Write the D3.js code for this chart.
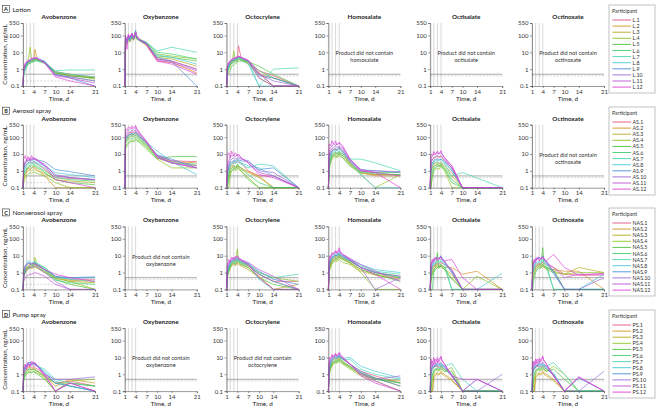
<!DOCTYPE html>
<html><head><meta charset="utf-8">
<script src="https://cdn.jsdelivr.net/npm/d3@7"></script>
<style>
body{margin:0;background:#fff;}
svg{display:block;font-family:Lato,"Liberation Sans",Arial,sans-serif;}
</style></head>
<body><svg id="chart" width="660" height="415"></svg>
<script>
const times=[1,1.2,1.6,2,2.4,3,3.4,4,4.3,5,7,10,14,21];
const products=["Lotion","Aerosol spray","Nonaerosol spray","Pump spray"];
const rowLetters=["A","B","C","D"];
const idPrefixes=["L","AS","NAS","PS"];
const ingredients=["Avobenzone","Oxybenzone","Octocrylene","Homosalate","Octisalate","Octinoxate"];
const xTicks=[1,4,7,10,14,21];
const yTicks=[0.1,1,10,100,550];
const loqSolid=[0.5,0.5,0.5,0.5,0.5,0.5];
const loqDashed=[0.2,0.4,0.4,0.4,0.4,0.4];
const dosingDays=[1,2,3,4];
const colors=["#e8507a","#d4921e","#b5a81c","#8cc21e","#4cc23a","#3fcf6e","#45d6b0","#45c8dc","#4a8fd6","#9a6ad8","#c04fd8","#e040d8"];

const lotionAvobenzone=[
[0.1,0.8,1.5,1.8,2.5,2.8,3,3.2,4,3.5,2.5,0.6,0.4,0.3],
[0.1,0.6,1.2,1.6,2.2,2.5,3,3,15,3.8,2.8,0.7,0.5,0.3],
[0.1,0.7,1.3,2,2.4,2.6,3.2,3.5,4.2,3.8,2.6,0.6,0.45,0.35],
[0.1,0.9,1.8,2.2,3,20,3.5,3.2,4,3.6,2.4,0.7,0.5,0.25],
[0.1,0.5,1.0,1.5,2,2.2,2.5,2.8,3.2,3,2.2,0.6,0.4,0.3],
[0.1,0.6,1.1,1.7,2.5,2.8,3,3.5,3.6,3.4,2.8,0.5,0.35,0.2],
[0.1,0.4,0.9,1.3,2,2.2,2.6,2.8,3.2,3,2.5,0.8,0.9,0.9],
[0.1,0.7,1.4,2,2.7,3,3.5,3.8,4.5,4,2.8,0.7,0.5,0.35],
[0.1,0.8,1.6,2.3,3,3.2,3.6,3.9,4.5,4.2,3,0.5,0.3,0.1],
[0.1,0.9,1.5,2.2,2.8,3.3,3.8,4,4.6,4.4,2.6,0.45,0.35,0.2],
[0.1,1.0,2,2.6,3,3.5,4,4.2,4.8,4,2.5,0.4,0.3,0.15],
[0.1,1.1,2.2,2.8,3.2,3.8,4.5,4.6,5,4.5,2.3,0.35,0.2,0.1]];
const lotionOxybenzone=[
[0.1,60,40,80,50,90,60,120,70,55,30,4,3,1],
[0.1,50,30,70,40,80,50,100,60,50,25,3,2.5,0.6],
[0.1,70,35,90,60,100,70,150,80,60,35,5,4,1.5],
[0.1,80,45,100,70,120,80,180,90,60,40,8,6,4],
[0.1,55,30,75,45,85,55,110,65,50,30,6,5,3],
[0.1,65,40,85,55,95,65,130,75,55,35,10,8,4],
[0.1,75,50,95,60,110,70,160,85,60,40,12,20,10],
[0.1,60,35,80,50,90,60,120,70,50,30,7,5,2],
[0.1,70,40,90,60,100,70,200,80,55,35,5,3,0.1],
[0.1,80,45,100,70,120,75,140,90,60,35,4,3,1],
[0.1,90,50,110,75,130,80,150,90,55,30,3.5,2.5,0.8],
[0.1,100,15,120,80,140,60,160,100,60,30,3,2,0.5]];
const lotionOctocrylene=[
[0.1,1,2,2.5,3,3.2,4,4,25,5,3,0.8,0.4,0.1],
[0.1,0.8,1.5,2,2.8,3,3.5,3.5,6,4,2.5,0.5,0.3,0.1],
[0.1,0.6,1.2,1.8,2.2,2.5,3,3.2,4,3.5,2,0.6,0.1,0.1],
[0.1,0.5,1,1.5,2,12,3,3,4,3.5,2.5,0.3,0.1,0.1],
[0.1,0.4,0.6,0.8,1.5,1.8,2.2,2.5,3,3,2.8,1.5,0.5,0.1],
[0.1,0.7,1.3,2,2.5,3,3.5,4,4.5,4,2.8,0.8,0.3,0.1],
[0.1,0.6,1.1,1.8,2.2,2.6,3,3.2,3.8,3.5,2,0.1,1,1.2],
[0.1,0.9,1.6,2.4,3,3.4,3.8,4.2,5,4.5,3,0.1,0.1,0.1],
[0.1,1,1.8,2.6,3.2,3.6,4,4.5,5.5,4.8,3,0.4,0.3,0.1],
[0.1,1.2,2,2.8,3.4,4,4.5,4.8,5.5,5,3.2,0.5,0.2,0.1],
[0.1,1.3,2.2,3,3.6,4.2,4.8,5,6,5,3,0.3,0.1,0.1],
[0.1,1.5,2.5,3.2,3.8,4.5,5,5.5,6,5,3.5,0.6,0.1,0.1]];
const aerosolAvobenzone=[
[0.1,1.5,2,2.5,3,3.5,3,3.5,3,2.5,1.2,0.4,0.35,0.3],
[0.1,0.4,0.8,1,1.5,1.2,1.5,1.8,1.5,1.2,0.5,0.1,0.1,0.1],
[0.1,0.3,0.5,0.8,1,1.2,1,1.4,1.2,1,0.7,0.3,0.25,0.2],
[0.1,0.2,0.3,0.5,0.6,0.8,0.7,0.9,0.8,0.7,0.5,0.2,0.1,0.1],
[0.1,0.5,0.8,1.2,1.5,1.8,1.5,2,1.8,1.5,0.8,0.3,0.2,0.15],
[0.1,0.6,1,1.5,1.8,2.2,2,2.5,2.2,1.8,1,0.4,0.3,0.25],
[0.1,0.8,1.5,2,2.5,3,2.5,3,2.8,2.5,1.5,0.5,0.4,0.3],
[0.1,1,2,2.5,3,3.5,3,3.8,3.5,3,2,0.8,0.6,0.4],
[0.1,1.5,3,3.5,4,4.5,4,5,5,4.5,3.5,1.2,0.9,0.5],
[0.1,1.8,3,4,4,5,4.5,5,4.5,4,2,0.6,0.4,0.3],
[0.1,2,3.5,4.5,5,5.5,5,6,5,4,2.5,0.5,0.4,0.3],
[0.1,5,8,4,7,4,8,5,6,4.5,2,0.3,0.2,0.1]];
const aerosolOxybenzone=[
[0.1,80,120,150,180,200,180,220,180,120,50,8,4,3.5],
[0.1,60,90,110,130,150,130,170,140,100,40,7,3.5,3],
[0.1,50,70,90,100,120,100,130,110,80,35,6,3,2],
[0.1,30,40,50,60,70,60,80,70,60,25,5,1.5,1.5],
[0.1,20,30,40,50,60,50,70,60,50,20,5,7,7],
[0.1,40,60,70,80,90,80,100,90,70,30,6,3,2.5],
[0.1,60,80,100,110,130,110,140,120,90,40,8,3,1.5],
[0.1,70,100,120,140,160,140,180,150,110,50,15,3.5,0.6],
[0.1,80,110,130,150,170,150,200,170,120,45,9,5,1.5],
[0.1,100,150,180,200,250,220,280,220,150,50,8,4,2],
[0.1,150,200,250,300,350,300,380,300,180,55,7,3,1.5],
[0.1,300,250,400,350,450,350,500,350,200,60,6,3,1.5]];
const aerosolOctocrylene=[
[0.1,0.5,1.5,2,2.5,3,3,4,3.5,3,1,0.5,0.5,0.1],
[0.1,0.3,0.8,1.5,2,2,1.5,2,1.8,1.5,0.9,0.5,0.1,0.1],
[0.1,0.2,0.5,1,1.5,1.8,1.5,2,1.8,1.2,0.8,0.4,0.1,0.1],
[0.1,0.1,0.1,0.5,1,1.2,1,1.5,1.2,1,0.4,0.1,0.1,0.1],
[0.1,0.1,0.3,0.8,1,1.5,1.2,2,1.5,1,0.3,0.1,0.1,0.1],
[0.1,0.2,0.6,1.2,1.5,2,1.8,2.5,2,1.5,0.6,0.2,0.1,0.1],
[0.1,0.4,1,2,2.5,3,2.8,3.5,3,2.5,1.5,2.5,2,0.1],
[0.1,0.6,1.5,2.5,3,3.5,3.5,4,4,3,2,1.5,0.5,0.1],
[0.1,0.8,2,3,3.5,4,4,5,4.5,4,3.5,1.2,1.5,0.1],
[0.1,1,2.5,4,5,6,5,6,5.5,5,4,1,0.8,0.1],
[0.1,2,4,6,8,8,7,9,7,6,3,0.8,0.5,0.1],
[0.1,8,12,6,15,8,12,8,10,6,3,0.6,0.4,0.1]];
const aerosolHomosalate=[
[0.1,5,10,15,20,20,18,25,20,15,3,1,0.6,0.6],
[0.1,3,6,8,10,12,10,14,12,10,3,0.8,0.5,0.5],
[0.1,2,5,7,8,10,8,12,10,8,2.5,0.7,0.6,0.6],
[0.1,1,3,5,6,7,6,8,7,6,2,0.6,0.1,0.6],
[0.1,1.5,4,6,8,8,7,10,8,6,2,0.9,0.8,0.8],
[0.1,2,5,8,10,12,10,12,10,8,3,0.8,0.7,0.6],
[0.1,3,6,10,12,14,12,15,12,10,5,5,3,1],
[0.1,5,8,12,15,18,15,20,16,12,4,0.6,0.1,0.1],
[0.1,6,10,15,18,20,18,25,20,15,4,1.2,1,0.8],
[0.1,8,15,20,25,30,25,30,25,20,4,1,1,0.9],
[0.1,15,25,30,35,40,35,45,35,25,5,1.2,0.8,0.5],
[0.1,40,30,60,40,60,35,50,40,30,5,1,0.8,0.1]];
const aerosolOctisalate=[
[0.1,3,5,6,6,8,6,7,6,4,1.5,0.1,0.1,0.1],
[0.1,1,2,2.5,3,3,2.5,3,2.5,2,0.8,0.1,0.1,0.1],
[0.1,0.8,1.5,2,2.2,2.5,2,2.5,2,1.5,0.5,0.1,0.1,0.1],
[0.1,0.1,0.5,1,1.2,1.5,1.2,2,1.5,1,0.1,0.1,0.1,0.1],
[0.1,0.1,0.6,1.2,1.5,2,1.8,2,1.8,1.2,0.2,0.1,0.1,0.1],
[0.1,0.5,1,1.5,2,2.5,2,2.5,2,1.5,0.3,0.1,0.1,0.1],
[0.1,1,2,3,3,3.5,3,3.5,3,2.5,0.5,0.8,null,0.1],
[0.1,1.5,2.5,3.5,4,4.5,4,5,4,3,1,0.1,0.1,0.1],
[0.1,2,3,4,5,5,4.5,5,4.5,3.5,1.2,0.1,0.1,0.1],
[0.1,3,5,6,7,8,7,8,7,5,1.5,0.1,0.1,0.1],
[0.1,5,8,10,10,12,10,12,10,6,2,0.1,0.1,0.1],
[0.1,10,8,14,9,15,10,16,10,6,2,0.1,0.1,0.1]];
const nonaerosolAvobenzone=[
[0.1,0.8,1.5,2,2.2,2.5,2.5,3,3,2.5,1.5,0.6,0.4,0.4],
[0.1,0.6,1.2,1.5,1.8,2,2,2.5,2.5,2,1.2,0.5,0.35,0.3],
[0.1,0.5,1,1.3,1.5,1.8,1.8,2,2,1.8,1,0.45,0.3,0.25],
[1.5,1,1.5,2,2.5,3,3,3.5,8,3,2,0.5,0.3,0.1],
[0.1,0.7,1.3,1.8,2,2.5,2.5,3,4,2.5,1.5,0.4,0.2,0.1],
[0.1,0.6,1.1,1.5,1.8,2,2,2.5,3,2,1.2,0.35,0.25,0.2],
[0.1,1,2,3,3.5,4,3.5,4,4.5,3.5,2,0.6,0.4,0.3],
[0.1,1.2,2.5,3.5,5,4,3.5,4,4.5,3,1.8,0.5,0.45,0.5],
[0.1,1,2,2.8,3.5,3.5,3,3.5,3.5,2.8,1.5,0.6,0.5,0.55],
[0.1,0.5,1,1.5,1.8,2,2,2.2,2.5,2,1,0.3,0.1,0.1],
[0.1,0.3,0.5,0.6,0.7,0.8,0.8,0.9,1,0.9,0.6,0.2,0.1,0.1],
[0.1,1.5,2.5,3,3.5,3,3.5,3.5,3.2,3,1.5,0.8,0.5,0.3]];
const nonaerosolOctocrylene=[
[0.1,1,2,3,4,5,4,6,5,4,2.5,0.8,0.3,0.3],
[0.1,0.8,1.5,2,3,3.5,3,4,3.5,3,2,0.6,0.1,0.2],
[0.1,0.6,1.2,1.8,2.5,3,2.5,3.5,3,2.5,1.5,0.5,0.1,0.1],
[0.1,1,2,3,4,5,5,25,6,4,3,1,0.5,0.3],
[0.1,0.5,1,2,3,4,3,5,4,3,2,0.5,0.2,0.1],
[0.1,0.7,1.5,2.5,3.5,4,3.5,5,4.5,3.5,2.5,0.8,0.3,0.1],
[0.1,0.8,1.8,3,4,5,4.5,6,5,4,3,1,0.5,0.8],
[0.1,1,2,3.5,5,6,5,7,6,4.5,3.5,0.4,0.1,0.1],
[0.1,1.2,2.5,4,5,6,5.5,7,6,5,3.5,1.2,0.4,0.2],
[0.1,1.5,3,4.5,5.5,7,6,8,7,5,3,0.8,0.3,0.1],
[0.1,2,4,5,7,8,7,10,8,6,4,1.5,0.6,0.1],
[0.1,3,6,4,8,6,9,8,7,6,3,0.5,0.1,0.1]];
const nonaerosolHomosalate=[
[0.1,2,4,6,8,10,9,12,10,8,5,2,1,0.6],
[0.1,1.5,3,5,6,8,7,10,8,7,4,1.5,0.8,0.5],
[0.1,1.2,2.5,4,5,6,5.5,8,7,6,3.5,1.2,0.7,0.4],
[0.1,1,2,3,4,5,4.5,6,5,4,3,1,0.1,0.1],
[0.1,1.5,3,4,5,7,6,9,7,6,4,1.5,0.8,0.3],
[0.1,2,4,6,7,9,8,11,9,7,5,2,1,0.5],
[0.1,3,5,7,9,11,10,13,11,9,6,2.5,1.2,0.8],
[0.1,3,6,8,10,12,11,15,12,10,6,3,1.5,1],
[0.1,2.5,5,7,9,11,10,14,11,9,5,2,1,0.6],
[0.1,4,7,10,12,15,13,18,14,11,6,2,0.1,0.5],
[0.1,5,9,12,15,18,16,22,17,12,7,3,1.2,0.3],
[0.1,10,8,15,12,20,14,30,18,12,6,2,0.8,0.1]];
const nonaerosolOctisalate=[
[0.1,1,2,2.5,3,3.5,3,4,3.5,3,1.5,0.1,0.1,0.1],
[0.1,0.8,1.5,2,2.5,3,2.5,3,2.5,2,2,0.8,1.2,0.1],
[0.1,0.5,1,1.5,2,2.5,2,2.5,2,1.5,0.8,0.1,0.1,0.1],
[0.1,0.3,0.8,1.2,1.5,2,1.8,2.5,2,1.5,0.5,0.1,0.6,0.1],
[0.1,0.4,1,1.5,2,15,2,2.5,2,1.5,0.4,0.1,0.1,0.1],
[0.1,0.1,0.1,1,1.5,2,1.8,3,2.5,2,0.1,0.1,0.1,0.1],
[0.1,0.8,2,3,3.5,4,3.5,5,4,3,0.1,0.1,0.1,0.1],
[0.1,1,2.5,3.5,4,5,4.5,6,5,3.5,1,0.1,0.1,0.9],
[0.1,1.5,3,5,6,8,6,10,7,4,1.2,0.1,0.1,0.1],
[0.1,2,4,6,7,8,7,9,7,5,1,0.1,0.1,0.1],
[0.1,2.5,5,7,6,8,6,8,6,4,1.5,0.1,0.1,0.1],
[0.1,3,6,4,8,5,7,8,6,5,6,0.5,0.1,0.1]];
const nonaerosolOctinoxate=[
[0.1,1,2,2.5,3,3.5,3,4,3.5,3,2,0.8,0.7,0.7],
[0.1,0.8,1.5,2,2.5,3,2.5,3,2.5,2,1.5,1.2,1.2,0.1],
[0.1,0.5,1,1.5,2,2.5,2,2.5,2,1.8,1.2,0.8,2,1],
[0.1,0.3,0.8,1.2,1.5,2,1.8,2.5,2,1.5,1,0.8,1,1],
[5,1,1.5,2,2.5,3,2.5,30,3,2,1.5,0.1,0.1,0.1],
[0.1,0.1,0.5,1,1.5,2,1.8,3,2.5,2,0.1,0.1,0.1,0.1],
[0.1,0.8,2,3,3.5,4,3.5,5,4,3,0.1,0.1,0.1,0.1],
[0.1,1,2.5,3.5,4,5,4.5,6,5,3.5,0.8,0.1,0.1,0.8],
[0.1,1.5,3,5,6,8,6,10,7,4,1.2,0.1,0.1,0.1],
[0.1,2,4,6,7,8,7,9,7,5,1,0.1,0.1,0.5],
[0.1,2.5,5,7,6,8,6,8,6,4,2,0.5,0.8,0.8],
[0.1,3,6,4,8,5,7,8,6,5,12,2,0.7,0.9]];
const pumpAvobenzone=[
[0.1,1,2,2.5,3,3,2.5,3,2.5,2,1,0.3,0.4,0.2],
[0.1,0.8,1.5,2,2.5,2.5,2,2.5,2,1.5,0.8,0.2,0.5,0.3],
[0.1,0.6,1.2,1.5,2,2,1.8,2,1.8,1.5,0.7,0.3,0.3,0.2],
[0.1,0.5,1,1.2,1.5,1.5,1.3,1.5,1.3,1.2,0.6,0.1,0.4,0.5],
[0.1,0.4,0.8,1,1.2,1.3,1.2,1.5,1.2,1,0.5,0.1,0.3,0.2],
[0.1,0.6,1.2,1.5,2,2,1.8,2,1.8,1.5,0.8,0.3,0.2,0.1],
[0.1,1,2,3,3.5,4,3.5,4,3.5,3,2,0.5,0.3,0.2],
[0.1,1.2,2.5,3.5,4,5,4,4.5,4,3,1.5,0.4,0.2,0.1],
[0.1,1.5,3,4,5,5,4.5,5,4.5,3.5,1.2,0.3,0.2,0.1],
[0.1,1,2,3,3.5,4,3.5,4,3.5,3,1,0.5,0.5,0.7],
[0.1,2,3.5,2.5,4,3,4.5,5,4,3,1,0.1,0.3,0.1],
[0.1,3,4,2,5,3,6,4,5,3,0.8,0.1,0.3,0.1]];
const pumpHomosalate=[
[0.1,2,4,6,8,10,9,12,10,8,4,1.5,0.8,0.3],
[0.1,1.5,3,5,6,8,7,10,8,6,3,1.2,0.6,0.2],
[0.1,1,2.5,4,5,6,5.5,8,7,5,2.5,1,0.5,0.4],
[0.1,0.8,2,3,4,5,4.5,6,5,4,2,0.8,0.4,0.1],
[0.1,1,2.5,3.5,4.5,5.5,5,7,6,4.5,2.5,1,0.5,0.3],
[0.1,1.5,3,4.5,5.5,7,6,9,7,5.5,3,1.2,0.6,0.3],
[0.1,2,4,6,7,9,8,11,9,7,8,2,1,0.5],
[0.1,3,6,8,10,12,10,14,11,9,10,3,1.5,0.6],
[0.1,2.5,5,7,9,10,9,12,10,8,4,1.5,0.6,0.2],
[0.1,4,7,9,11,13,11,15,12,9,4,1.2,0.5,0.8],
[0.1,5,9,11,13,15,13,18,14,10,4,1,0.4,0.1],
[0.1,10,8,15,10,18,12,20,15,10,4,0.8,0.3,0.1]];
const pumpOctisalate=[
[0.1,1,2,2.5,3,3,2.5,3,2.5,2,1,0.1,0.1,0.1],
[0.1,0.1,0.1,0.8,1,1.2,1,1.5,1.2,1,0.5,0.1,0.1,0.1],
[0.1,0.1,0.1,0.6,0.8,1,0.9,1.2,1,0.8,0.4,0.1,0.1,0.1],
[0.1,0.1,0.5,1,1.5,2,1.5,2,1.8,1.5,2.5,0.1,0.1,0.1],
[0.1,0.1,1,1.5,2,2,1.8,2.5,2,1.5,1.5,0.1,0.1,0.1],
[0.1,0.5,1,1.5,2,2.5,2,3,2.5,2,0.8,0.1,0.1,0.1],
[0.1,1,2,3,3.5,4,3.5,4,3.5,3,4.5,0.5,0.1,0.1],
[0.1,1.5,2.5,3,3.5,4,3.5,4,3.5,3,1,0.1,0.5,0.1],
[0.1,2,3,2.5,3.5,3,3,3.5,3,2.5,0.8,0.1,0.1,0.1],
[0.1,1.5,3,4,3,5,4,5,4,3,0.8,0.1,0.1,1],
[0.1,3,6,4,8,5,8,10,7,4,0.8,0.5,0.5,0.1],
[2,8,3,10,4,10,5,12,6,4,0.8,0.1,0.5,0.1]];
const pumpOctinoxate=[
[0.1,1,2,2.5,3,3,2.5,3,2.5,2,1,0.1,0.1,0.1],
[0.1,0.1,0.1,0.8,1,1.2,1,1.5,1.2,1,0.5,0.1,0.1,0.1],
[0.1,0.1,0.1,0.6,0.8,1,0.9,1.2,1,0.8,0.4,0.1,0.1,0.1],
[0.1,0.1,0.5,1,1.5,2,1.5,2,1.8,1.5,3,1,0.1,0.1],
[0.1,0.1,1,1.5,2,2,1.8,2.5,2,1.5,2,0.5,0.1,0.1],
[0.1,0.5,1,1.5,2,2.5,2,3,2.5,2,1,0.1,0.1,0.1],
[0.1,1,2,3,3.5,4,3.5,4,3.5,3,5,1,0.1,0.1],
[0.1,1.5,2.5,3,3.5,4,3.5,4,3.5,3,1.2,0.1,0.1,0.1],
[0.1,2,3,2.5,3.5,3,3,3.5,3,2.5,0.8,0.1,0.6,0.1],
[0.1,1.5,3,4,3,5,4,5,4,3,0.8,0.1,0.1,1.5],
[0.1,3,6,4,8,5,8,10,7,4,0.8,0.1,0.7,0.1],
[2,6,3,8,4,9,5,12,6,4,0.8,0.1,0.7,0.1]];

const panelData=[
 [lotionAvobenzone,lotionOxybenzone,lotionOctocrylene,null,null,null],
 [aerosolAvobenzone,aerosolOxybenzone,aerosolOctocrylene,aerosolHomosalate,aerosolOctisalate,null],
 [nonaerosolAvobenzone,null,nonaerosolOctocrylene,nonaerosolHomosalate,nonaerosolOctisalate,nonaerosolOctinoxate],
 [pumpAvobenzone,null,null,pumpHomosalate,pumpOctisalate,pumpOctinoxate]];

const svg=d3.select("#chart");
const plotW=72, plotH=63;
const colX=c=>23+c*101.8;
const rowY=r=>23+r*101.7;
const x=d3.scaleLinear().domain([1,21]).range([0,plotW]);
const y=d3.scaleLog().domain([0.1,550]).range([plotH,0]);
const axisColor="#555";

products.forEach((prod,r)=>{
  const ry=rowY(r);
  // row label
  svg.append("rect").attr("x",2.5).attr("y",ry-17.5).attr("width",7).attr("height",7)
    .attr("fill","none").attr("stroke","#333").attr("stroke-width",0.6);
  svg.append("text").attr("x",6).attr("y",ry-11.6).attr("text-anchor","middle")
    .attr("font-size",5.5).attr("font-weight","bold").attr("fill","#222").text(rowLetters[r]);
  svg.append("text").attr("x",12.5).attr("y",ry-11.5).attr("font-size",6.5).attr("fill","#222").text(prod);
  // y label
  svg.append("text").attr("transform",`translate(7,${ry+plotH/2}) rotate(-90)`)
    .attr("text-anchor","middle").attr("font-size",6.3).attr("fill","#222").text("Concentration, ng/mL");

  ingredients.forEach((ing,c)=>{
    const g=svg.append("g").attr("transform",`translate(${colX(c)},${ry})`);
    g.append("text").attr("x",plotW/2).attr("y",-4).attr("text-anchor","middle")
      .attr("font-size",6.3).attr("font-weight","bold").attr("fill","#222").text(ing);
    // dosing vertical lines
    g.selectAll(".vl").data(dosingDays).enter().append("line")
      .attr("x1",d=>x(d)).attr("x2",d=>x(d)).attr("y1",0).attr("y2",plotH)
      .attr("stroke","#c8c8c8").attr("stroke-width",0.7);
    // reference lines
    g.append("line").attr("x1",0).attr("x2",plotW).attr("y1",y(loqDashed[c])).attr("y2",y(loqDashed[c]))
      .attr("stroke","#bbb").attr("stroke-width",0.6).attr("stroke-dasharray","2,1.5");
    g.append("line").attr("x1",0).attr("x2",plotW).attr("y1",y(loqSolid[c])).attr("y2",y(loqSolid[c]))
      .attr("stroke","#888").attr("stroke-width",0.7);
    const data=panelData[r][c];
    if(data){
      const line=d3.line().x(d=>x(d[0])).y(d=>y(Math.max(0.1,d[1])));
      data.forEach((vals,i)=>{
        const pts=times.map((t,k)=>[t,vals[k]]).filter(p=>p[1]!=null);
        g.append("path").attr("d",line(pts)).attr("fill","none")
          .attr("stroke",colors[i]).attr("stroke-width",0.75).attr("stroke-opacity",0.9);
      });
    } else {
      const t=g.append("text").attr("x",plotW/2).attr("y",y(10)+3).attr("text-anchor","middle")
        .attr("font-size",5.6).attr("fill","#333");
      t.append("tspan").attr("x",plotW/2).text("Product did not contain");
      t.append("tspan").attr("x",plotW/2).attr("dy",7).text(ing.toLowerCase());
    }
    // axes
    const ya=d3.axisLeft(y).tickValues(yTicks).tickFormat(d3.format("~g")).tickSize(2).tickPadding(1.5);
    const yg=g.append("g").call(ya);
    const xa=d3.axisBottom(x).tickValues(xTicks).tickSize(2).tickPadding(1.5);
    const xg=g.append("g").attr("transform",`translate(0,${plotH})`).call(xa);
    [yg,xg].forEach(a=>{
      a.selectAll("path").attr("stroke",axisColor).attr("stroke-width",0.6);
      a.selectAll("line").attr("stroke",axisColor).attr("stroke-width",0.6);
      a.selectAll("text").attr("font-size",6).attr("fill","#333").attr("font-family","Lato, 'Liberation Sans', sans-serif");
    });
    g.append("text").attr("x",plotW/2).attr("y",plotH+14.5).attr("text-anchor","middle")
      .attr("font-size",6.3).attr("fill","#222").text("Time, d");
  });

  // legend
  const firstY=[20,122,223,325][r];
  const lg=svg.append("g").attr("transform",`translate(609,${firstY})`);
  lg.append("rect").attr("x",0).attr("y",-15).attr("width",46).attr("height",88)
    .attr("fill","none").attr("stroke","#999").attr("stroke-width",0.6);
  lg.append("text").attr("x",3).attr("y",-7).attr("font-size",5.3).attr("fill","#333").text("Participant");
  colors.forEach((col,i)=>{
    lg.append("line").attr("x1",3.5).attr("x2",22).attr("y1",i*6.1).attr("y2",i*6.1)
      .attr("stroke",col).attr("stroke-width",0.9);
    lg.append("text").attr("x",23.5).attr("y",i*6.1+2).attr("font-size",5.3).attr("fill","#333")
      .text(idPrefixes[r]+"."+(i+1));
  });
});
</script></body></html>
